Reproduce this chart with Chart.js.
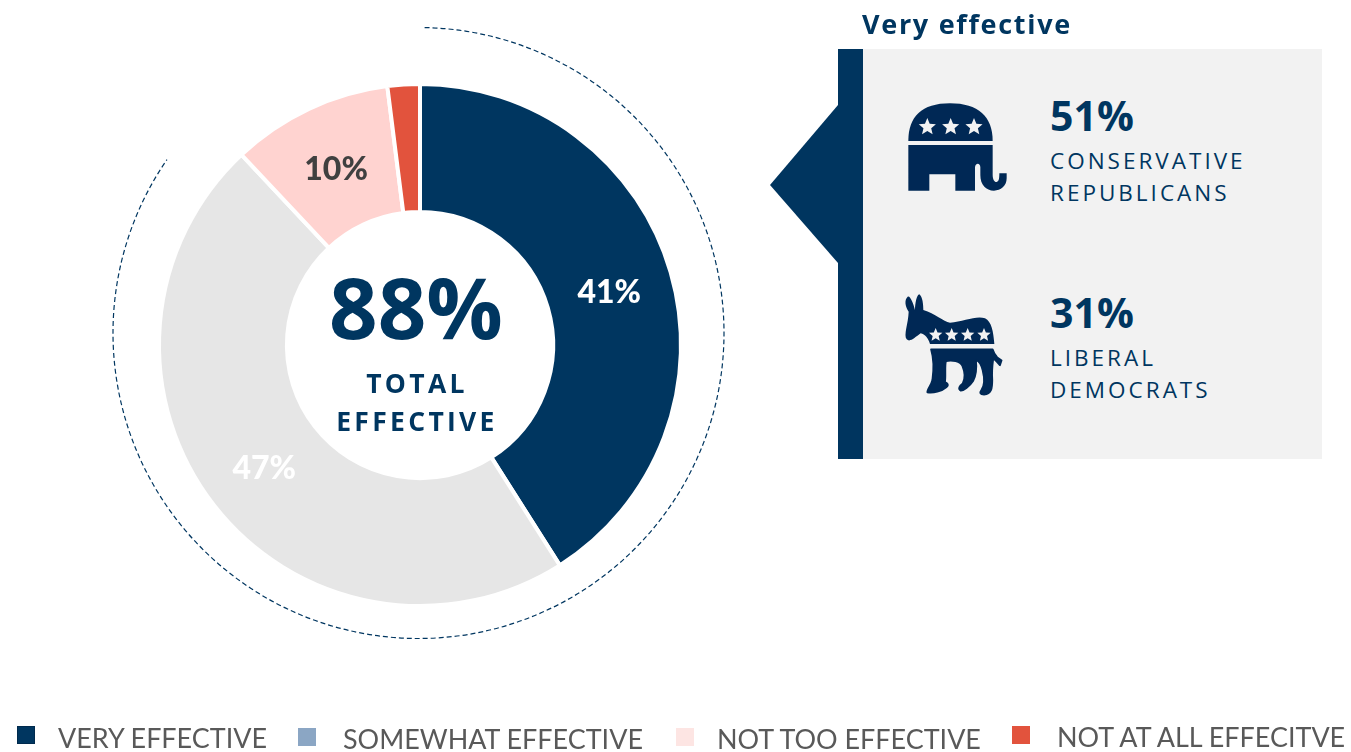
<!DOCTYPE html>
<html>
<head>
<meta charset="utf-8">
<title>Total effective</title>
<script src="https://cdn.jsdelivr.net/npm/chart.js@4/dist/chart.umd.min.js"></script>
<style>
  html, body { margin: 0; padding: 0; background: #fff; }
  #page { position: relative; width: 1351px; height: 752px; overflow: hidden; font-family: "Open Sans", sans-serif; }
  #page > * { position: absolute; }
  #chart { left: 0; top: 0; width: 1351px; height: 752px; }
  .txt { white-space: nowrap; line-height: 1; color: #003660; transform: translateY(-50%); }
  .pct { font-weight: 700; font-size: 41px; }
  .grp { font-size: 22.5px; letter-spacing: 3px; }
  .mid { font-weight: 700; font-size: 26.5px; letter-spacing: 3.3px; text-align: center; width: 300px; left: 267px; }
  .swatch { width: 18px; height: 18px; box-sizing: border-box; }
  .leg { font-family: Lato, sans-serif; font-size: 26.95px; color: #595959; white-space: nowrap; line-height: 1; transform: translateY(-50%); }
</style>
</head>
<body>
<div id="page">
  <canvas id="chart" width="1351" height="752"></canvas>

  <div style="left:838px;top:49px;width:25px;height:410px;background:#00355f"></div>
  <div style="left:863px;top:49px;width:459px;height:410px;background:#f2f2f2"></div>
  <svg style="left:770px;top:105px" width="68" height="158"><polygon points="68,0 0,80 68,158" fill="#00355f"/></svg>

  <div class="txt" style="left:862px;top:23px;font-weight:700;font-size:27px;letter-spacing:1.7px">Very effective</div>

  <div class="txt" style="left:268px;width:300px;text-align:center;top:306px;font-weight:700;font-size:85px;transform:translate(-2px,-50%)" id="total"></div>
  <div class="txt mid" style="top:383px">TOTAL</div>
  <div class="txt mid" style="top:421px">EFFECTIVE</div>

  <!-- elephant -->
  <svg style="left:880px;top:80px" width="150" height="130" viewBox="0 0 450 390">
    <path fill="#002855" d="M85 183 C85 110 125 70 210 70 C295 70 338 110 338 183 Z"/>
    <path fill="#002855" d="M85 195 H338 V285 C338 300 345 308 350 306 C357 304 358 295 358 280 H380 V295 C380 318 362 332 342 332 C318 332 301 315 301 285 V262 C301 248 286 248 285 262 V332 H226 V283 H148 V332 H85 Z"/>
    <g id="repStars" fill="#f2f2f2"></g>
  </svg>
  <!-- donkey -->
  <svg style="left:880px;top:280px" width="150" height="130" viewBox="0 0 450 390">
    <path fill="#002855" d="M83 50 C90 45 100 70 105 90 C105 70 110 45 118 43 C128 50 130 75 130 90 C165 100 190 125 210 128 C250 125 290 105 315 115 C335 125 340 155 343 192 H150 C145 175 135 162 122 160 C105 172 90 188 80 178 C70 165 85 130 86 95 C76 80 72 60 83 50 Z"/>
    <path fill="#002855" stroke="#002855" stroke-width="5" stroke-linejoin="round" d="M153 208 H338 C340 215 345 225 352 232 L365 241 L360 256 L350 245 L340 235 C338 250 335 275 337 300 C337 325 335 342 312 344 C300 344 298 338 304 330 C312 318 314 295 308 272 C304 255 297 243 288 240 C290 258 290 282 280 302 C268 320 250 333 242 332 C233 328 238 317 248 310 C256 295 254 275 247 258 C242 245 215 238 198 244 C194 258 198 290 195 306 C204 310 207 316 200 321 C185 334 160 340 142 337 C140 328 154 316 157 300 C162 265 160 232 153 208 Z"/>
    <g id="demStars" fill="#f2f2f2"></g>
  </svg>

  <div class="txt pct" id="repPct" style="left:1050px;top:115px"></div>
  <div class="txt grp" style="left:1050px;top:161px">CONSERVATIVE</div>
  <div class="txt grp" style="left:1050px;top:193px">REPUBLICANS</div>
  <div class="txt pct" id="demPct" style="left:1050px;top:312px"></div>
  <div class="txt grp" style="left:1050px;top:358px">LIBERAL</div>
  <div class="txt grp" style="left:1050px;top:390px">DEMOCRATS</div>
</div>

<script>
const categories = ['VERY EFFECTIVE', 'SOMEWHAT EFFECTIVE', 'NOT TOO EFFECTIVE', 'NOT AT ALL EFFECITVE'];
const shares = [41, 47, 10, 2];
const sliceColors = ['#003660', '#e6e6e6', '#ffd3d0', '#e2533d'];
const labelColors = ['#ffffff', '#ffffff', '#404040', null];
const legendColors = ['#003660', '#8ba6c4', '#fde5e3', '#e2533d'];
const legendSwatchX = [17, 298, 676, 1012];
const legendSwatchY = [726, 728, 728, 726];
const legendTextX = [58, 343, 717, 1057];
const legendTextY = [738, 739, 739, 737];
const totalEffective = 88;
const conservativeRepublicans = 51;
const liberalDemocrats = 31;

document.getElementById('total').textContent = totalEffective + '%';
document.getElementById('repPct').textContent = conservativeRepublicans + '%';
document.getElementById('demPct').textContent = liberalDemocrats + '%';

function starPoints(cx, cy, r) {
  const pts = [];
  for (let i = 0; i < 10; i++) {
    const rad = i % 2 ? r * 0.45 : r;
    const a = -Math.PI / 2 + i * Math.PI / 5;
    pts.push((cx + rad * Math.cos(a)).toFixed(1) + ',' + (cy + rad * Math.sin(a)).toFixed(1));
  }
  return pts.join(' ');
}
function addStars(id, xs, y, r) {
  const g = document.getElementById(id);
  xs.forEach(x => {
    const s = document.createElementNS('http://www.w3.org/2000/svg', 'polygon');
    s.setAttribute('points', starPoints(x, y, r));
    g.appendChild(s);
  });
}
addStars('repStars', [142, 212, 282], 141, 27);
addStars('demStars', [167, 215, 263, 312], 165, 21);

// legend is spaced unevenly in the original, so it is placed by hand
const page = document.getElementById('page');
categories.forEach((name, i) => {
  const sw = document.createElement('div');
  sw.className = 'swatch';
  sw.style.left = legendSwatchX[i] + 'px';
  sw.style.top = legendSwatchY[i] + 'px';
  sw.style.background = legendColors[i];
  if (i === 0) sw.style.border = '1px solid #002a4d';
  page.appendChild(sw);
  const t = document.createElement('div');
  t.className = 'leg';
  t.textContent = name;
  t.style.left = legendTextX[i] + 'px';
  t.style.top = legendTextY[i] + 'px';
  page.appendChild(t);
});

// dashed ring around the effective share, its centre sits a bit above the donut
const ringPlugin = {
  id: 'ring',
  afterDatasetsDraw(chart) {
    const arc = chart.getDatasetMeta(0).data[0];
    const ctx = chart.ctx;
    ctx.save();
    ctx.strokeStyle = '#003660';
    ctx.lineWidth = 1.2;
    ctx.setLineDash([5, 3]);
    ctx.beginPath();
    ctx.arc(arc.x - 1.5, arc.y - 12, 305.5, -Math.PI / 2 + 0.02, -Math.PI / 2 + 5.316);
    ctx.stroke();
    ctx.restore();
  }
};

const sliceLabels = {
  id: 'sliceLabels',
  afterDatasetsDraw(chart) {
    const ctx = chart.ctx;
    ctx.save();
    ctx.font = '900 32px Lato, sans-serif';
    ctx.textAlign = 'center';
    ctx.textBaseline = 'middle';
    chart.getDatasetMeta(0).data.forEach((arc, i) => {
      if (!labelColors[i]) return;
      const p = arc.tooltipPosition();
      ctx.fillStyle = labelColors[i];
      ctx.fillText(shares[i] + '%', p.x, p.y + 3);
    });
    ctx.restore();
  }
};

new Chart(document.getElementById('chart'), {
  type: 'doughnut',
  data: {
    labels: categories,
    datasets: [{
      data: shares,
      backgroundColor: sliceColors,
      borderColor: '#ffffff',
      borderWidth: 4,
      hoverOffset: 0
    }]
  },
  options: {
    responsive: false,
    animation: false,
    cutout: '51%',
    layout: { padding: { left: 157, top: 82, right: 668, bottom: 144 } },
    plugins: { legend: { display: false }, tooltip: { enabled: false } }
  },
  plugins: [ringPlugin, sliceLabels]
});
</script>
</body>
</html>
